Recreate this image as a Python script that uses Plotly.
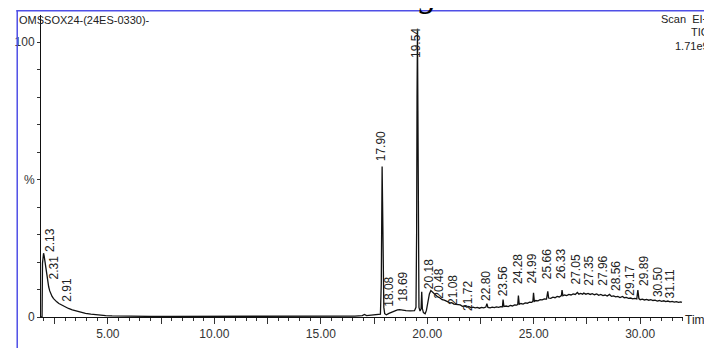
import plotly.graph_objects as go

# ---------------- data ----------------
time_min = [
    1.86, 1.91, 1.93, 1.96, 1.98, 2.01, 2.05, 2.09, 2.13, 2.17, 2.22, 2.27, 2.32, 2.38, 2.45,
    2.52, 2.60, 2.70, 2.80, 2.90, 3.00, 3.15, 3.33, 3.50, 3.70, 3.95, 4.20, 4.56, 4.90, 5.20,
    5.60, 6.00, 7.00, 8.00, 9.00, 10.00, 11.00, 12.00, 13.00, 14.00, 15.00, 16.00, 16.60,
    16.95, 17.05, 17.15, 17.40, 17.70, 17.80, 17.84, 17.86, 17.88, 17.90, 17.93, 17.96,
    18.00, 18.08, 18.20, 18.40, 18.60, 18.70, 18.85, 19.00, 19.20, 19.40, 19.47, 19.50,
    19.52, 19.54, 19.56, 19.58, 19.61, 19.66, 19.71, 19.74, 19.77, 19.82, 19.90, 19.96,
    20.03, 20.10, 20.17, 20.25, 20.35, 20.48,
    20.60, 20.70, 20.80, 20.90, 21.00, 21.07, 21.15, 21.25, 21.35, 21.45, 21.55, 21.65,
    21.75, 21.85, 21.95, 22.05, 22.15, 22.25, 22.35, 22.45, 22.55, 22.65, 22.75, 22.80,
    22.85, 22.95, 23.05, 23.15, 23.25, 23.35, 23.45, 23.53, 23.56, 23.60, 23.70, 23.80,
    23.90, 24.00, 24.10, 24.20, 24.25, 24.28, 24.32, 24.40, 24.50, 24.60, 24.70, 24.80,
    24.90, 24.96, 24.99, 25.03, 25.10, 25.20, 25.30, 25.40, 25.50, 25.60, 25.66, 25.70,
    25.80, 25.90, 26.00, 26.10, 26.20, 26.30, 26.33, 26.37, 26.45, 26.55, 26.65, 26.75,
    26.85, 26.95, 27.05, 27.12, 27.20, 27.30, 27.35, 27.45, 27.55, 27.65, 27.75, 27.85,
    27.96, 28.05, 28.15, 28.25, 28.35, 28.45, 28.56, 28.65, 28.75, 28.85, 28.95, 29.05,
    29.17, 29.25, 29.35, 29.45, 29.55, 29.65, 29.75, 29.84, 29.89, 29.94, 30.00, 30.10,
    30.20, 30.30, 30.40, 30.50, 30.60, 30.70, 30.80, 30.90, 31.00, 31.11, 31.20, 31.30,
    31.40, 31.50, 31.60, 31.70, 31.80, 31.90, 31.96,
]
intensity_pct = [
    0.0, 0.0, 19.5, 22.6, 23.2, 22.1, 19.9, 17.6, 15.3, 12.9, 11.0, 9.5, 8.3, 7.5, 6.7,
    6.0, 5.5, 4.9, 4.5, 4.0, 3.6, 3.1, 2.6, 2.2, 1.8, 1.35, 1.05, 0.7, 0.5, 0.38,
    0.3, 0.25, 0.22, 0.2, 0.2, 0.2, 0.2, 0.22, 0.22, 0.25, 0.25, 0.3, 0.35,
    0.5, 0.9, 0.5, 0.6, 0.75, 1.0, 12.0, 38.0, 54.7, 42.0, 14.0, 3.5,
    1.2, 0.8, 1.3, 2.1, 2.6, 2.7, 2.4, 2.3, 2.2, 2.3, 3.5, 30.0,
    80.0, 104.0, 75.0, 25.0, 3.5, 2.2, 3.0, 9.2, 3.0, 1.6, 1.2, 2.4,
    5.5, 8.4, 9.6, 9.0, 8.2, 7.4,
    6.9, 6.3, 6.1, 5.6, 5.4, 5.1, 5.2, 4.7, 4.6, 4.3, 4.4, 3.9,
    4.0, 3.6, 3.8, 3.4, 3.6, 3.3, 3.5, 3.2, 3.5, 3.3, 3.6, 4.8,
    3.5, 3.3, 3.6, 3.4, 3.7, 3.5, 3.8, 3.7, 6.3, 3.8, 4.0, 3.8,
    4.2, 4.0, 4.4, 4.3, 4.6, 7.8, 4.6, 4.9, 4.7, 5.1, 5.0, 5.4,
    5.3, 5.7, 8.8, 5.7, 6.0, 5.9, 6.3, 6.2, 6.6, 6.5, 9.3, 6.9,
    6.8, 7.2, 7.0, 7.5, 7.3, 7.8, 9.8, 7.7, 8.0, 7.8, 8.2, 8.0,
    8.4, 8.2, 8.9, 8.3, 8.6, 8.3, 8.7, 8.3, 8.6, 8.2, 8.5, 8.1,
    8.4, 7.9, 8.2, 7.8, 8.0, 7.6, 8.2, 7.5, 7.7, 7.3, 7.5, 7.1,
    7.5, 7.0, 7.1, 6.8, 6.9, 6.6, 6.8, 6.6, 9.8, 6.7, 6.3, 6.5,
    6.2, 6.4, 6.1, 6.3, 6.0, 6.1, 5.8, 6.0, 5.7, 5.9, 5.6, 5.8,
    5.5, 5.7, 5.4, 5.6, 5.3, 5.5, 5.3,
]

peak_labels = ["2.13", "2.31", "2.91", "17.90", "18.08", "18.69", "19.54", "20.18",
               "20.48", "21.08", "21.72", "22.80", "23.56", "24.28", "24.99", "25.66",
               "26.33", "27.05", "27.35", "27.96", "28.56", "29.17", "29.89", "30.50",
               "31.11"]
peak_label_level = [23.2, 13.3, 5.3, 56.1, 3.5, 5.3, 94.0, 9.8, 6.3, 3.9, 1.8, 5.6,
                    7.0, 11.6, 11.6, 13.3, 13.3, 11.6, 10.9, 10.9, 9.1, 7.4, 10.9,
                    7.0, 6.3]

x_tick_vals = [2.5, 5.0, 7.5, 10.0, 12.5, 15.0, 17.5, 20.0, 22.5, 25.0, 27.5, 30.0]
x_tick_text = ["", "5.00", "", "10.00", "", "15.00", "", "20.00", "", "25.00", "", "30.00"]
y_tick_vals = [0, 10, 20, 30, 40, 50, 60, 70, 80, 90, 100]
y_tick_text = ["0", "", "", "", "", "%", "", "", "", "", "100"]

# ---------------- styling / layout ----------------
# the page body has an 8px margin, so the figure is sized/offset to compensate
OFF = 8
W, H = 712 - OFF, 348 - OFF
L, R, T, B = 35 - OFF, 29, 15 - OFF, 20
plot_w = W - L - R
plot_h = H - T - B
px_per_pct = 2.85
y_max = plot_h / px_per_pct

# small horizontal nudges of labels (the instrument spreads crowded labels)
label_xshift = [3, 3.5, 4, -2, 3, 4, -2, -2, 1.5, 3.5, 4, -1.5, -0.5, -0.5, -1, 0, -0.5,
                -1, 5, 6, 6.5, 7.5, 6, 6.5, 6.5]


def px_x(p):
    """page pixel x -> paper coordinate"""
    return (p - OFF - L) / plot_w


def px_y(p):
    """page pixel y -> paper coordinate"""
    return (H - B - (p - OFF)) / plot_h


fig = go.Figure()
fig.add_trace(go.Scatter(
    x=time_min, y=intensity_pct, mode="lines",
    line=dict(color="#111111", width=1.3), hoverinfo="skip", cliponaxis=False,
))

lab_font = dict(family="Liberation Sans, Arial", size=12, color="#222222")
annotations = []
for lab, lev, dx in zip(peak_labels, peak_label_level, label_xshift):
    annotations.append(dict(
        x=float(lab), y=lev, xref="x", yref="y", text=lab, showarrow=False,
        textangle=-90, xanchor="center", yanchor="bottom", xshift=dx,
        font=lab_font, borderpad=0,
    ))

hdr_font = dict(family="Liberation Sans, Arial", size=11, color="#222222")
annotations += [
    dict(x=px_x(11), y=px_y(20), xref="paper", yref="paper", text="OMSSOX24-(24ES-0330)-",
         showarrow=False, xanchor="left", yanchor="middle", font=hdr_font),
    dict(x=px_x(711), y=px_y(19), xref="paper", yref="paper", text="Scan&nbsp;&nbsp;EI+",
         showarrow=False, xanchor="right", yanchor="middle", font=hdr_font),
    dict(x=px_x(711), y=px_y(33), xref="paper", yref="paper", text="TIC",
         showarrow=False, xanchor="right", yanchor="middle", font=hdr_font),
    dict(x=px_x(711), y=px_y(47), xref="paper", yref="paper", text="1.71e9",
         showarrow=False, xanchor="right", yanchor="middle", font=hdr_font),
    dict(x=px_x(683), y=px_y(331), xref="paper", yref="paper", text="Time",
         showarrow=False, xanchor="left", yanchor="middle", font=lab_font),
    dict(x=px_x(10), y=px_y(16), xref="paper", yref="paper",
         text="methanolic extract of <i>S. mangos</i> leave.",
         showarrow=False, xanchor="left", yanchor="bottom",
         font=dict(family="Liberation Serif, Times New Roman", size=35, color="#000000")),
]

shapes = [
    dict(type="line", xref="paper", yref="paper", x0=px_x(10), x1=px_x(720),
         y0=px_y(10.5), y1=px_y(10.5), line=dict(color="#4f4fe6", width=1.5)),
    dict(type="line", xref="paper", yref="paper", x0=px_x(11), x1=px_x(11),
         y0=px_y(10.5), y1=px_y(360), line=dict(color="#4f4fe6", width=1.5)),
]

fig.update_layout(
    width=W, height=H, margin=dict(l=L, r=R, t=T, b=B, pad=0),
    paper_bgcolor="white", plot_bgcolor="white", showlegend=False,
    annotations=annotations, shapes=shapes,
    xaxis=dict(
        range=[1.86, 32.01], showgrid=False, zeroline=False, showline=True,
        linecolor="#111111", linewidth=1, ticks="outside", ticklen=6, tickwidth=1,
        tickcolor="#333333", tickvals=x_tick_vals, ticktext=x_tick_text,
        tickfont=dict(family="Liberation Sans, Arial", size=12, color="#333333"),
        minor=dict(ticks="outside", ticklen=3, dtick=0.5, tick0=0, tickcolor="#333333",
                   showgrid=False),
    ),
    yaxis=dict(
        range=[0, y_max], showgrid=False, zeroline=False, showline=True,
        linecolor="#111111", linewidth=1, ticks="outside", ticklen=3, tickwidth=1,
        tickcolor="#333333", tickvals=y_tick_vals, ticktext=y_tick_text,
        tickfont=dict(family="Liberation Sans, Arial", size=12, color="#333333"),
    ),
)

fig.write_html("out.html")
